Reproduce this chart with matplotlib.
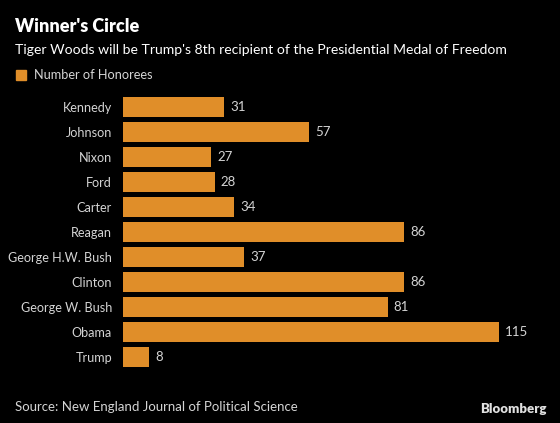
import matplotlib
matplotlib.use('Agg')
import matplotlib.pyplot as plt
from matplotlib.patches import Rectangle

presidents = ["Kennedy", "Johnson", "Nixon", "Ford", "Carter", "Reagan",
              "George H.W. Bush", "Clinton", "George W. Bush", "Obama", "Trump"]
honorees = [31, 57, 27, 28, 34, 86, 37, 86, 81, 115, 8]

plt.rcParams['font.family'] = ['Lato', 'DejaVu Sans']

BG = "#000000"
ORANGE = "#E08E29"
TXT = "#D4D4D4"

W, H = 560, 423
fig = plt.figure(figsize=(W / 100, H / 100), dpi=100, facecolor=BG)

# axes placed in pixel coords: bars from x=123, rows from y=94.5 to 369.5
left, right = 123, 540
top, bottom = 94.5, 369.5
ax = fig.add_axes([left / W, 1 - bottom / H, (right - left) / W, (bottom - top) / H])
ax.set_facecolor(BG)

y = list(range(len(presidents)))
ax.barh(y, honorees, height=0.8, color=ORANGE)
ax.set_ylim(len(presidents) - 0.5, -0.5)
ax.set_xlim(0, (right - left) / 3.27)

for yi, v in zip(y, honorees):
    ax.text(v + 1.8, yi, str(v), color=TXT, fontsize=9.5, va="center", ha="left")

ax.set_yticks(y)
ax.set_yticklabels(presidents, color=TXT, fontsize=9.1)
ax.tick_params(axis="y", length=0, pad=8)
ax.set_xticks([])
for s in ax.spines.values():
    s.set_visible(False)

def fx(px):
    return px / W

def fy(py):
    return 1 - py / H

fig.text(fx(15), fy(27), "Winner's Circle", color="white", fontsize=13,
         fontweight="heavy", va="center", ha="left")
fig.text(fx(15), fy(50), "Tiger Woods will be Trump's 8th recipient of the Presidential Medal of Freedom",
         color="white", fontsize=10.1, va="center", ha="left")

fig.patches.append(Rectangle((fx(16), fy(80)), 10 / W, 10 / H, transform=fig.transFigure,
                             color=ORANGE, figure=fig))
fig.text(fx(34), fy(75), "Number of Honorees", color=TXT, fontsize=9.2, va="center", ha="left")

fig.text(fx(15), fy(407), "Source: New England Journal of Political Science", color=TXT,
         fontsize=9.5, va="center", ha="left")
fig.text(fx(547), fy(409), "Bloomberg", color="#E0E0E0", fontsize=9.5, fontweight="heavy",
         va="center", ha="right")

fig.savefig("out.png", dpi=100, facecolor=BG)
